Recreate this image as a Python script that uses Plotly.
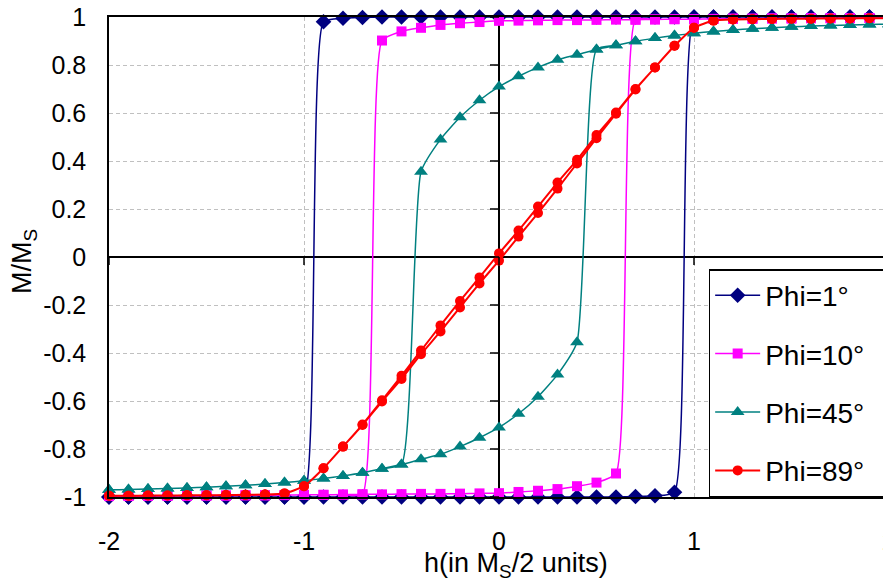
import plotly.graph_objects as go

# ---------------- data ----------------
h_desc = [2.0, 1.9, 1.8, 1.7, 1.6, 1.5, 1.4, 1.3, 1.2, 1.1, 1.0, 0.9, 0.8, 0.7, 0.6,
          0.5, 0.4, 0.3, 0.2, 0.1, 0.0, -0.1, -0.2, -0.3, -0.4, -0.5, -0.6, -0.7,
          -0.8, -0.9, -1.0, -1.1, -1.2, -1.3, -1.4, -1.5, -1.6, -1.7, -1.8, -1.9, -2.0]
h_asc = [-2.0, -1.9, -1.8, -1.7, -1.6, -1.5, -1.4, -1.3, -1.2, -1.1, -1.0, -0.9, -0.8,
         -0.7, -0.6, -0.5, -0.4, -0.3, -0.2, -0.1, 0.0, 0.1, 0.2, 0.3, 0.4, 0.5, 0.6,
         0.7, 0.8, 0.9, 1.0, 1.1, 1.2, 1.3, 1.4, 1.5, 1.6, 1.7, 1.8, 1.9, 2.0]

phi1_down = [1.0, 1.0, 1.0, 1.0, 1.0, 1.0, 1.0, 1.0, 1.0, 1.0, 1.0, 1.0, 1.0, 1.0, 1.0,
             1.0, 1.0, 1.0, 1.0, 1.0, 1.0, 1.0, 1.0, 1.0, 1.0, 1.0, 1.0, 0.998,
             0.995, 0.98, -1.0, -1.0, -1.0, -1.0, -1.0, -1.0, -1.0, -1.0, -1.0, -1.0, -1.0]
phi1_up = [-1.0, -1.0, -1.0, -1.0, -1.0, -1.0, -1.0, -1.0, -1.0, -1.0, -1.0, -1.0, -1.0,
           -1.0, -1.0, -1.0, -1.0, -1.0, -1.0, -1.0, -1.0, -1.0, -1.0, -1.0, -1.0, -1.0, -1.0,
           -0.998, -0.995, -0.98, 1.0, 1.0, 1.0, 1.0, 1.0, 1.0, 1.0, 1.0, 1.0, 1.0, 1.0]

phi10_down = [0.996, 0.996, 0.995, 0.995, 0.995, 0.994, 0.994, 0.993, 0.993, 0.992, 0.991,
              0.991, 0.990, 0.989, 0.989, 0.988, 0.987, 0.987, 0.986, 0.985, 0.984, 0.979,
              0.974, 0.967, 0.955, 0.940, 0.902, -0.989, -0.990, -0.991, -0.991, -0.992,
              -0.993, -0.993, -0.994, -0.994, -0.995, -0.995, -0.995, -0.996, -0.996]
phi10_up = [-0.996, -0.996, -0.995, -0.995, -0.995, -0.994, -0.994, -0.993, -0.993, -0.992,
            -0.991, -0.991, -0.990, -0.989, -0.989, -0.988, -0.987, -0.987, -0.986, -0.985,
            -0.984, -0.979, -0.974, -0.967, -0.955, -0.940, -0.902, 0.989, 0.990, 0.991,
            0.991, 0.992, 0.993, 0.993, 0.994, 0.994, 0.995, 0.995, 0.995, 0.996, 0.996]

phi45_down = [0.970, 0.969, 0.967, 0.965, 0.962, 0.959, 0.955, 0.951, 0.946, 0.940, 0.932,
              0.923, 0.912, 0.899, 0.882, 0.865, 0.843, 0.822, 0.790, 0.753, 0.710, 0.653,
              0.582, 0.490, 0.355, -0.865, -0.882, -0.899, -0.912, -0.923, -0.932, -0.940,
              -0.946, -0.951, -0.955, -0.959, -0.962, -0.965, -0.967, -0.969, -0.970]
phi45_up = [-0.970, -0.969, -0.967, -0.965, -0.962, -0.959, -0.955, -0.951, -0.946, -0.940,
            -0.932, -0.923, -0.912, -0.899, -0.882, -0.865, -0.843, -0.822, -0.790, -0.753,
            -0.710, -0.653, -0.582, -0.490, -0.355, 0.865, 0.882, 0.899, 0.912, 0.923,
            0.932, 0.940, 0.946, 0.951, 0.955, 0.959, 0.962, 0.965, 0.967, 0.969, 0.970]

phi89_down = [0.995, 0.995, 0.994, 0.994, 0.993, 0.993, 0.992, 0.991, 0.990, 0.985, 0.955,
              0.880, 0.790, 0.700, 0.602, 0.508, 0.405, 0.310, 0.210, 0.110, 0.015, -0.085,
              -0.183, -0.285, -0.390, -0.495, -0.597, -0.698, -0.790, -0.880, -0.955, -0.985,
              -0.990, -0.991, -0.992, -0.993, -0.993, -0.994, -0.994, -0.995, -0.995]
phi89_up = [-0.995, -0.995, -0.994, -0.994, -0.993, -0.993, -0.992, -0.991, -0.990, -0.985,
            -0.955, -0.880, -0.790, -0.700, -0.602, -0.508, -0.405, -0.310, -0.210, -0.110,
            -0.015, 0.085, 0.183, 0.285, 0.390, 0.495, 0.597, 0.698, 0.790, 0.880, 0.955,
            0.985, 0.990, 0.991, 0.992, 0.993, 0.993, 0.994, 0.994, 0.995, 0.995]

series_names = ["Phi=1°", "Phi=10°", "Phi=45°", "Phi=89°"]
x_ticks = [-2, -1, 0, 1, 2]
x_tick_text = ["-2", "-1", "0", "1", "2"]
y_ticks = [-1, -0.8, -0.6, -0.4, -0.2, 0, 0.2, 0.4, 0.6, 0.8, 1]
y_tick_text = ["-1", "-0.8", "-0.6", "-0.4", "-0.2", "0", "0.2", "0.4", "0.6", "0.8", "1"]

# ---------------- styles ----------------
FONT = "Liberation Sans, Arial, sans-serif"
FS = 25
styles = [
    dict(color="#000080", symbol="diamond", size=12, width=1.5),
    dict(color="#FF00FF", symbol="square", size=10, width=1.5),
    dict(color="#008080", symbol="triangle-up", size=12, width=1.5),
    dict(color="#FF0000", symbol="circle", size=10, width=2),
]
data = [(phi1_down, phi1_up), (phi10_down, phi10_up),
        (phi45_down, phi45_up), (phi89_down, phi89_up)]

# the page body has an 8px margin, so the figure is 8px smaller and shifted
W, H = 883, 575
L, T = 101, 9            # plot area left/top inside the figure
PW, PH = 780, 480        # plot area size

NBSP = "\u00a0"
fig = go.Figure()
for i, (name, (down, up), st) in enumerate(zip(series_names, data, styles)):
    fig.add_trace(go.Scatter(
        x=h_desc + h_asc, y=down + up, name=name + NBSP * 2, mode="lines+markers",
        legendgroup=str(i), cliponaxis=False,
        line=dict(color=st["color"], width=st["width"], shape="spline", smoothing=0.5),
        marker=dict(symbol=st["symbol"], size=st["size"], color=st["color"],
                    line=dict(width=0)),
    ))

# small tick marks on the axes that cross at the origin (built from the tick arrays)
tick_shapes = []
for xv in x_ticks:
    tick_shapes.append(dict(type="line", xref="x", yref="y", x0=xv, x1=xv,
                            ysizemode="pixel", yanchor=0, y0=0, y1=-8,
                            line=dict(color="black", width=1.5), layer="above"))
for yv in y_ticks:
    tick_shapes.append(dict(type="line", xref="x", yref="y", y0=yv, y1=yv,
                            xsizemode="pixel", xanchor=0, x0=-9, x1=0,
                            line=dict(color="black", width=1.5), layer="above"))

# x tick labels placed at the x tick values below the plot area
x_label_annots = [
    dict(text=txt, xref="x", yref="paper", x=xv, y=-(541 - 497) / PH,
         xanchor="center", yanchor="middle", showarrow=False,
         font=dict(family=FONT, size=FS, color="black"))
    for xv, txt in zip(x_ticks, x_tick_text)
]

fig.update_layout(
    width=W, height=H,
    margin=dict(l=L, r=W - L - PW, t=T, b=H - T - PH, autoexpand=False),
    paper_bgcolor="white", plot_bgcolor="white",
    font=dict(family=FONT, size=FS, color="black"),
    showlegend=True,
    legend=dict(x=0.997, y=0.0, xanchor="right", yanchor="bottom",
                bgcolor="white", bordercolor="black", borderwidth=1.5,
                font=dict(family=FONT, size=28, color="black"),
                itemwidth=45,
                tracegroupgap=19, traceorder="grouped"),
    xaxis=dict(range=[-2, 2], tickmode="array", tickvals=x_ticks, showticklabels=False,
               automargin=False,
               showline=True, mirror=True, linecolor="black", linewidth=1.5,
               showgrid=True, gridcolor="#c0c0c0", griddash="4px,3px", gridwidth=1,
               zeroline=True, zerolinecolor="black", zerolinewidth=1.5, ticks=""),
    yaxis=dict(range=[-1, 1], tickmode="array", tickvals=y_ticks, ticktext=y_tick_text,
               automargin=False, ticklabeloverflow="allow",
               showline=True, mirror=True, linecolor="black", linewidth=1.5,
               showgrid=True, gridcolor="#c0c0c0", griddash="4px,3px", gridwidth=1,
               zeroline=True, zerolinecolor="black", zerolinewidth=1.5,
               ticks="outside", ticklen=16, tickcolor="rgba(0,0,0,0)"),
    shapes=tick_shapes,
    annotations=x_label_annots + [
        dict(text="h(in M<sub>S</sub>/2 units)", xref="paper", yref="paper",
             x=(516 - 109) / 780, y=-(565 - 497) / 480, xanchor="center", yanchor="middle",
             showarrow=False, font=dict(family=FONT, size=27, color="black")),
        dict(text="M/M<sub>S</sub>", xref="paper", yref="paper", textangle=-90,
             x=(24 - 109) / 780, y=(497 - 262) / 480, xanchor="center", yanchor="middle",
             showarrow=False, font=dict(family=FONT, size=27, color="black")),
    ],
)

fig.write_html("out.html")
